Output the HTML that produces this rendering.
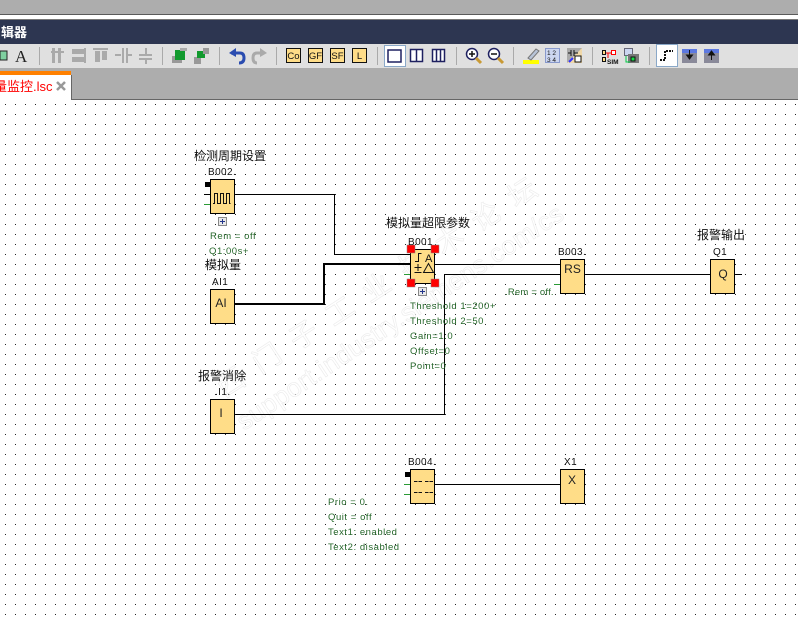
<!DOCTYPE html>
<html><head><meta charset="utf-8">
<style>
html,body{margin:0;padding:0;background:#fff}
svg{display:block}
text{font-family:"Liberation Sans","Noto Sans CJK SC",sans-serif}
.t{font-size:12px;fill:#111}
.n{font-size:10px;fill:#111;letter-spacing:.4px}
.g{font-size:9.5px;fill:#25662a;letter-spacing:.55px}
.s{font-size:12px;fill:#222;text-anchor:middle}
.w{fill:none;stroke:#000;stroke-width:1}
.k{fill:#fd8;stroke:#000;stroke-width:1}
.u{font-size:9.5px;fill:#111;text-anchor:middle}
</style></head><body>
<svg width="798" height="617" viewBox="0 0 798 617" xmlns="http://www.w3.org/2000/svg">
<defs>
<pattern id="d" x="5" y="4" width="10" height="10" patternUnits="userSpaceOnUse"><rect width="1" height="1" fill="#222"/></pattern>
</defs>
<rect width="798" height="617" fill="#fff"/>
<rect y="100" width="798" height="517" fill="url(#d)"/>
<!-- chrome -->
<rect width="798" height="14" fill="#adadad"/>
<rect y="14" width="798" height="1" fill="#5a5a5a"/>
<rect y="19" width="798" height="1" fill="#777"/>
<rect y="20" width="798" height="24" fill="#2d3651"/>
<text x="1" y="37" font-size="13" font-weight="bold" fill="#fff">辑器</text>
<rect y="44" width="798" height="24" fill="#e0e0e0"/>
<rect y="68" width="798" height="31" fill="#adadad"/>
<rect y="99" width="798" height="1" fill="#666"/>
<rect y="71" width="71" height="29" fill="#fff"/>
<rect y="71" width="71" height="4" fill="#ff8000"/>
<rect x="71" y="75" width="1" height="25" fill="#666"/>
<text x="-6" y="91" font-size="13" fill="#f00">量监控.lsc</text>
<path d="M57 82l8 8M65 82l-8 8" stroke="#999" stroke-width="2.5"/>
<!-- toolbar -->
<rect x="0" y="51" width="7" height="9" fill="#7fd0a0" stroke="#222"/>
<text x="15" y="62" style="font-size:17px;font-family:'Liberation Serif',serif" fill="#222">A</text>
<g fill="#aaa">
<rect x="39" y="47" width="1" height="18"/><rect x="162" y="47" width="1" height="18"/><rect x="219" y="47" width="1" height="18"/><rect x="276" y="47" width="1" height="18"/><rect x="377" y="47" width="1" height="18"/><rect x="456" y="47" width="1" height="18"/><rect x="513" y="47" width="1" height="18"/><rect x="592" y="47" width="1" height="18"/><rect x="649" y="47" width="1" height="18"/>
<rect x="52" y="48" width="3" height="15"/><rect x="58" y="48" width="3" height="15"/><rect x="51" y="51" width="13" height="2"/>
<rect x="72" y="49" width="13" height="5"/><rect x="72" y="57" width="13" height="5"/><rect x="84" y="48" width="2" height="15"/>
<rect x="93" y="48" width="15" height="2"/><rect x="95" y="51" width="5" height="11"/><rect x="102" y="51" width="5" height="9"/>
<rect x="115" y="54" width="6" height="2"/><rect x="122" y="48" width="2" height="15"/><rect x="126" y="48" width="2" height="15"/><rect x="128" y="54" width="4" height="2"/>
<rect x="139" y="54" width="13" height="2"/><rect x="139" y="58" width="13" height="2"/><rect x="145" y="48" width="2" height="6"/><rect x="145" y="60" width="2" height="4"/>
</g>
<rect x="172" y="56" width="10" height="7" fill="#999"/><rect x="175" y="50" width="10" height="10" fill="#129a2e"/><rect x="180" y="48" width="7" height="3" fill="#aaa"/>
<rect x="194" y="57" width="7" height="7" fill="#999"/><rect x="197" y="51" width="8" height="7" fill="#129a2e"/><rect x="203" y="48" width="6" height="6" fill="#999"/>
<path d="M231 53h9q4 0 4 5t-5 5" fill="none" stroke="#2a4cb0" stroke-width="3"/><path d="M229 53l7-5v9z" fill="#2a4cb0"/>
<path d="M264 53h-7q-4 0-4 5t4 5" fill="none" stroke="#aaa" stroke-width="3"/><path d="M267 53l-7-5v9z" fill="#aaa"/>
<g fill="#ffdd88" stroke="#111">
<rect x="286.500" y="48.500" width="14" height="14"/><rect x="308.500" y="48.500" width="14" height="14"/><rect x="330.500" y="48.500" width="14" height="14"/><rect x="352.500" y="48.500" width="14" height="14"/>
</g>
<text class="u" x="293.500" y="59">Co</text><text class="u" x="315.500" y="59">GF</text><text class="u" x="337.500" y="59">SF</text><text class="u" x="359.500" y="59">L</text>
<rect x="384.500" y="45.500" width="21" height="21" fill="#fff" stroke="#8aa8c8"/>
<g fill="#fff" stroke="#1e2060" stroke-width="1.500">
<rect x="388" y="50" width="13" height="12"/>
<rect x="410.500" y="49.500" width="12" height="12"/><path d="M416.500 49.500v12" fill="none"/>
<rect x="432.500" y="49.500" width="12" height="12"/><path d="M436.500 49.500v12M440.500 49.500v12" fill="none"/>
</g>
<g fill="#fff" stroke="#1e2060" stroke-width="1.500">
<circle cx="472" cy="54" r="5.500"/><circle cx="494" cy="54" r="5.500"/>
</g>
<path d="M469 54h6M472 51v6M491 54h6" stroke="#111" stroke-width="1.500"/>
<path d="M476 58l5 5M498 58l5 5" stroke="#c99a35" stroke-width="3"/>
<rect x="523" y="60" width="16" height="4" fill="#ff0"/>
<path d="M528 58l8-9 3 2-8 9z" fill="#b8c4d8" stroke="#777"/>
<rect x="545.500" y="48.500" width="14" height="14" fill="#ccd6f0" stroke="#8899cc"/>
<text x="547" y="55" style="font-size:6.5px" fill="#111">1 2</text><text x="547" y="62" style="font-size:6.5px" fill="#111">3 4</text>
<rect x="567" y="48" width="15" height="15" fill="#f0d8a8"/><path d="M567 48h15l-15 15z" fill="#aaa"/>
<path d="M571 50v6M574 50v6M568 53h3M574 53h4" stroke="#111"/><rect x="575" y="56" width="6" height="6" fill="#fff" stroke="#111"/><path d="M569 62l4-4" stroke="#33f" stroke-width="2"/>
<rect x="602.500" y="50.500" width="3" height="4" fill="#ffdd88" stroke="#111"/><rect x="602.500" y="57.500" width="3" height="4" fill="#ffdd88" stroke="#111"/><rect x="611.500" y="50.500" width="4" height="4" fill="#fff" stroke="#f00"/>
<path d="M606 53h5M608 53v5" stroke="#f00"/>
<text x="607" y="64" style="font-size:6.5px;font-weight:bold" fill="#111">SIM</text>
<rect x="624.500" y="48.500" width="8" height="7" fill="#ccd6f0" stroke="#667"/><rect x="628" y="54" width="11" height="9" fill="#777"/><rect x="631" y="57" width="4" height="4" fill="#1d4" stroke="#111"/><path d="M626 56v6h4" stroke="#0c4" fill="none"/>
<rect x="656.500" y="44.500" width="21" height="22" fill="#fff" stroke="#8aa8c8"/>
<path d="M660 60h5v-9h8" fill="none" stroke="#111" stroke-width="2" stroke-dasharray="2 1"/>
<rect x="682" y="49" width="15" height="14" fill="#8a8a9a"/><rect x="682" y="49" width="15" height="4" fill="#5c78e0"/>
<path d="M689.500 50v8M686.500 55l3 4 3-4z" stroke="#111" fill="#111"/>
<rect x="704" y="49" width="15" height="14" fill="#8a8a9a"/><rect x="704" y="49" width="15" height="4" fill="#5c78e0"/>
<path d="M711.500 52v8M708.500 55l3-4 3 4z" stroke="#111" fill="#111"/>
<!-- watermark -->
<g fill="#fff" stroke="#ededed" stroke-width=".7">
<text transform="translate(224 398) rotate(-33)" style="font-size:28px;letter-spacing:15.500px">西门子工业技术论坛</text>
<text transform="translate(244 431) rotate(-33.500)" style="font-size:26px;letter-spacing:.3px">support.industry.siemens.com/cs</text>
</g>
<!-- wires -->
<path class="w" d="M234 194.500H334.500V254.500H410"/>
<path d="M234 304H324V264H410" fill="none" stroke="#000" stroke-width="2"/>
<path class="w" d="M434 264.500H560"/>
<path class="w" d="M234 414.500H444.500V274.500H560"/>
<path class="w" d="M584 274.500H710"/>
<path class="w" d="M734 274.500H742"/>
<path class="w" d="M434 484.500H560"/>
<!-- stubs -->
<rect x="205" y="182" width="5" height="5" fill="#000"/>
<rect x="405" y="472" width="5" height="5" fill="#000"/>
<path d="M204 194.500h6" stroke="#000"/>
<path d="M204 204.500h6M404 274.500h6M554 284.500h6M404 484.500h6M404 494.500h6" stroke="#2a9a35"/>
<!-- blocks -->
<rect class="k" x="210.500" y="179.500" width="24" height="34"/>
<rect class="k" x="210.500" y="289.500" width="24" height="34"/>
<rect class="k" x="210.500" y="399.500" width="24" height="34"/>
<rect class="k" x="410.500" y="249.500" width="24" height="34"/>
<rect class="k" x="560.500" y="259.500" width="24" height="34"/>
<rect class="k" x="710.500" y="259.500" width="24" height="34"/>
<rect class="k" x="410.500" y="469.500" width="24" height="34"/>
<rect class="k" x="560.500" y="469.500" width="24" height="34"/>
<path d="M213 203.500h1.500V193.500h3v10h3v-10h3v10h3v-10h3v10h1" fill="none" stroke="#111"/>
<text class="s" x="221" y="307">AI</text>
<text class="s" x="221" y="417">I</text>
<text class="s" x="572.500" y="273">RS</text>
<text class="s" x="723" y="278">Q</text>
<text class="s" x="572" y="484">X</text>
<path d="M414 481.500h8M425 481.500h8M414 492.500h8M425 492.500h8" stroke="#111" stroke-dasharray="3.500 1"/>
<!-- B001 symbol -->
<path d="M421.500 253.500h-3v8h-3.500" fill="none" stroke="#111"/>
<text x="425" y="262" style="font-size:11px" fill="#111">A</text>
<path d="M414.500 267.500h7M418 264v7M414.500 272.500h7" stroke="#111" fill="none"/>
<path d="M423.500 272.500l5-9 5 9z" fill="none" stroke="#111"/>
<!-- handles -->
<g fill="#f00" stroke="#888" stroke-width=".5">
<rect x="407" y="245" width="8" height="8"/><rect x="431" y="245" width="8" height="8"/><rect x="407" y="279" width="8" height="8"/><rect x="431" y="279" width="8" height="8"/>
</g>
<!-- expand -->
<g fill="#e8e8e8" stroke="#888">
<rect x="218.500" y="217.500" width="8" height="8"/><rect x="418.500" y="287.500" width="8" height="8"/>
</g>
<path d="M220 221.500h5M222.500 219v5M420 291.500h5M422.500 289v5" stroke="#22348a"/>
<!-- titles -->
<text class="t" x="194" y="160">检测周期设置</text>
<text class="t" x="205" y="269">模拟量</text>
<text class="t" x="386" y="227">模拟量超限参数</text>
<text class="t" x="198" y="380">报警消除</text>
<text class="t" x="697" y="239">报警输出</text>
<!-- names -->
<text class="n" x="208" y="175">B002.</text>
<text class="n" x="212" y="285">AI1</text>
<text class="n" x="215" y="395">.I1.</text>
<text class="n" x="408" y="245">B001</text>
<text class="n" x="558" y="255">B003.</text>
<text class="n" x="713" y="255">Q1</text>
<text class="n" x="408" y="465">B004.</text>
<text class="n" x="564" y="465">X1</text>
<!-- params -->
<text class="g" x="210" y="239">Rem = off</text>
<text class="g" x="209" y="254">Q1:00s+</text>
<text class="g" x="505" y="295" style="letter-spacing:.2px">.Rem = off.</text>
<text class="g" x="410" y="309">Threshold 1=200+</text>
<text class="g" x="410" y="324">Threshold 2=50</text>
<text class="g" x="410" y="339">Gain=1.0</text>
<text class="g" x="410" y="354">Offset=0</text>
<text class="g" x="410" y="369">Point=0</text>
<text class="g" x="328" y="505">Prio = 0.</text>
<text class="g" x="328" y="520">Quit = off</text>
<text class="g" x="328" y="535">Text1: enabled</text>
<text class="g" x="328" y="550">Text2: disabled</text>
</svg>
</body></html>
